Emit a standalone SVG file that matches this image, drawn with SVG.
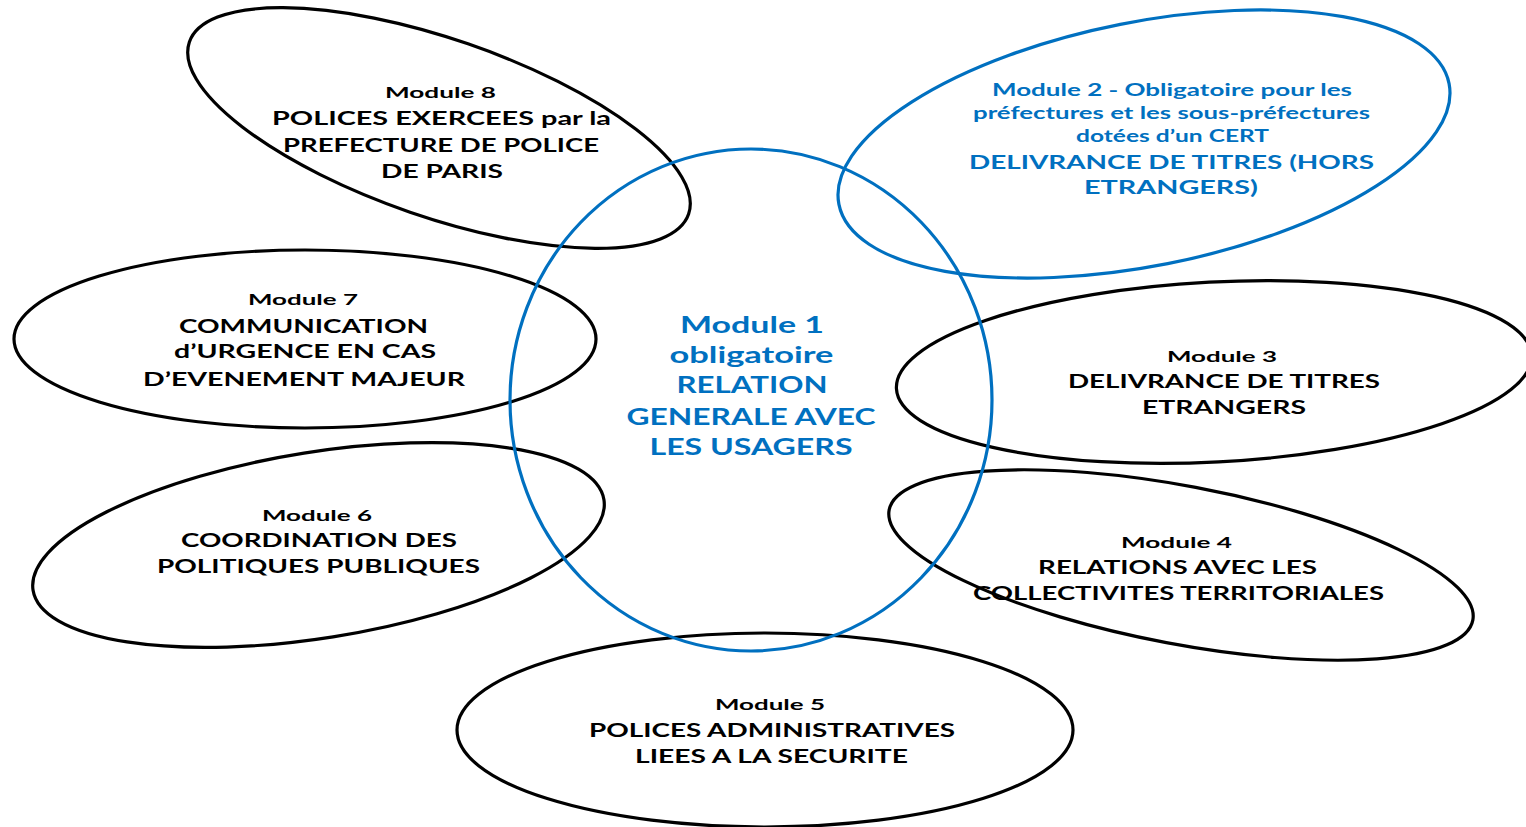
<svg xmlns="http://www.w3.org/2000/svg" width="1526" height="827" viewBox="0 0 1526 827">
<style>
.e{fill:none;stroke:#000;stroke-width:3.2}
.eb{fill:none;stroke:#0070C0;stroke-width:3.2}
text{font-family:Lato,"Open Sans","Liberation Sans",sans-serif;font-weight:bold;text-anchor:middle}
.k{fill:#000}
.b{fill:#0070C0}
.s{font-size:15px}
.m{font-size:19.5px}
.s2{font-size:16.5px}
.c{font-size:22.5px}
</style>
<rect width="1526" height="827" fill="#fff"/>
<g id="module8">
<ellipse class="e" cx="439" cy="128" rx="264" ry="89" transform="rotate(19 439 128)"/>
<text class="k s" x="440.5" y="98" textLength="111" lengthAdjust="spacingAndGlyphs">Module  8</text>
<text class="k m" x="441.5" y="125" textLength="339" lengthAdjust="spacingAndGlyphs">POLICES EXERCEES  par la</text>
<text class="k m" x="441" y="152" textLength="316" lengthAdjust="spacingAndGlyphs">PREFECTURE DE POLICE</text>
<text class="k m" x="442" y="178" textLength="122" lengthAdjust="spacingAndGlyphs">DE PARIS</text>
</g>
<g id="module2">
<ellipse class="eb" cx="1144" cy="144" rx="311" ry="122" transform="rotate(-11.2 1144 144)"/>
<text class="b s2" x="1172" y="96" textLength="360" lengthAdjust="spacingAndGlyphs">Module  2 - Obligatoire  pour  les</text>
<text class="b s2" x="1171.5" y="119" textLength="397" lengthAdjust="spacingAndGlyphs">préfectures  et les sous-préfectures</text>
<text class="b s2" x="1172.5" y="142" textLength="193" lengthAdjust="spacingAndGlyphs">dotées d’un  CERT</text>
<text class="b m" x="1171.5" y="169" textLength="405" lengthAdjust="spacingAndGlyphs">DELIVRANCE DE TITRES (HORS</text>
<text class="b m" x="1171" y="194" textLength="174" lengthAdjust="spacingAndGlyphs">ETRANGERS)</text>
</g>
<g id="module7">
<ellipse class="e" cx="305" cy="339" rx="291" ry="89"/>
<text class="k s" x="303" y="305" textLength="110" lengthAdjust="spacingAndGlyphs">Module  7</text>
<text class="k m" x="303.5" y="333" textLength="249" lengthAdjust="spacingAndGlyphs">COMMUNICATION</text>
<text class="k m" x="305" y="358" textLength="262" lengthAdjust="spacingAndGlyphs">d’URGENCE EN CAS</text>
<text class="k m" x="304" y="386" textLength="322" lengthAdjust="spacingAndGlyphs">D’EVENEMENT MAJEUR</text>
</g>
<g id="module3">
<ellipse class="e" cx="1214" cy="372" rx="318" ry="90" transform="rotate(-3 1214 372)"/>
<text class="k s" x="1222" y="362" textLength="110" lengthAdjust="spacingAndGlyphs">Module  3</text>
<text class="k m" x="1224" y="388" textLength="312" lengthAdjust="spacingAndGlyphs">DELIVRANCE DE TITRES</text>
<text class="k m" x="1224" y="414" textLength="164" lengthAdjust="spacingAndGlyphs">ETRANGERS</text>
</g>
<g id="module6">
<ellipse class="e" cx="318.5" cy="545" rx="289" ry="93" transform="rotate(-9 318.5 545)"/>
<text class="k s" x="317" y="521" textLength="110" lengthAdjust="spacingAndGlyphs">Module  6</text>
<text class="k m" x="319" y="547" textLength="276" lengthAdjust="spacingAndGlyphs">COORDINATION DES</text>
<text class="k m" x="318.5" y="573" textLength="323" lengthAdjust="spacingAndGlyphs">POLITIQUES PUBLIQUES</text>
</g>
<g id="module4">
<ellipse class="e" cx="1181" cy="565" rx="297" ry="79" transform="rotate(10.7 1181 565)"/>
<text class="k s" x="1176.5" y="548" textLength="111" lengthAdjust="spacingAndGlyphs">Module  4</text>
<text class="k m" x="1177.5" y="574" textLength="279" lengthAdjust="spacingAndGlyphs">RELATIONS AVEC LES</text>
<text class="k m" x="1178.5" y="600" textLength="411" lengthAdjust="spacingAndGlyphs">COLLECTIVITES TERRITORIALES</text>
</g>
<g id="module5">
<ellipse class="e" cx="765" cy="730" rx="308" ry="97"/>
<text class="k s" x="770" y="710" textLength="110" lengthAdjust="spacingAndGlyphs">Module  5</text>
<text class="k m" x="772" y="737" textLength="366" lengthAdjust="spacingAndGlyphs">POLICES ADMINISTRATIVES</text>
<text class="k m" x="771.5" y="763" textLength="273" lengthAdjust="spacingAndGlyphs">LIEES A LA SECURITE</text>
</g>
<g id="module1">
<ellipse class="eb" cx="751" cy="400" rx="241" ry="251"/>
<text class="b c" x="752" y="333" textLength="144" lengthAdjust="spacingAndGlyphs">Module 1</text>
<text class="b c" x="751.5" y="363" textLength="164" lengthAdjust="spacingAndGlyphs">obligatoire</text>
<text class="b c" x="752" y="393" textLength="151" lengthAdjust="spacingAndGlyphs">RELATION</text>
<text class="b c" x="751" y="425" textLength="249" lengthAdjust="spacingAndGlyphs">GENERALE AVEC</text>
<text class="b c" x="751" y="455" textLength="203" lengthAdjust="spacingAndGlyphs">LES USAGERS</text>
</g>
</svg>
